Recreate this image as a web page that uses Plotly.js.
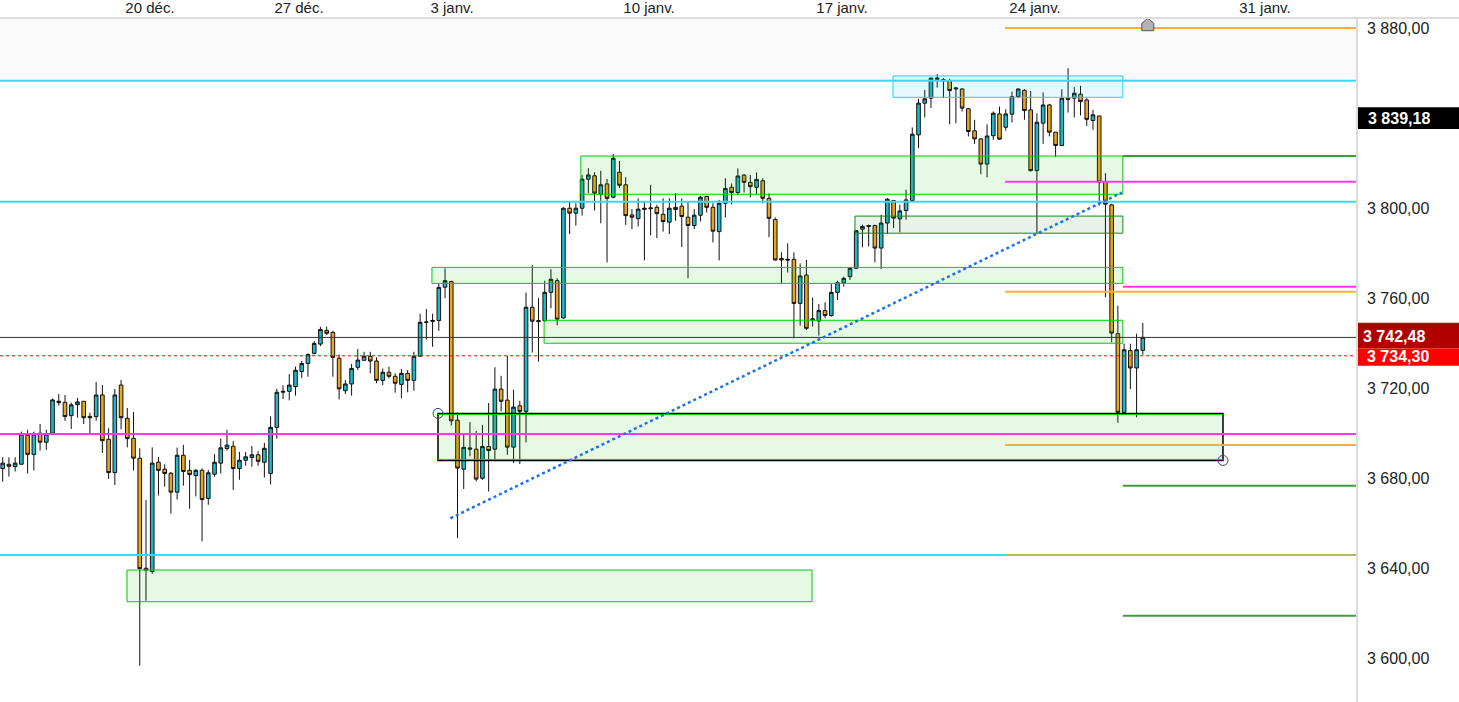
<!DOCTYPE html>
<html><head><meta charset="utf-8">
<script src="https://cdn.plot.ly/plotly-3.0.1.min.js"></script>
<style>html,body{margin:0;padding:0;background:#fff;overflow:hidden}#chart{width:1459px;height:702px}</style>
</head><body><div id="chart"></div>
<script>
// ---- candle data ----
const openP = [3684.2,3686.1,3685.1,3686.1,3699.0,3690.5,3699.9,3695.9,3699.9,3713.5,
3713.6,3707.7,3712.6,3714.1,3707.4,3707.3,3716.9,3697.2,3682.4,3721.3,
3706.5,3697.6,3688.8,3639.9,3638.4,3687.0,3683.9,3682.1,3673.7,3690.1,
3683.4,3681.1,3683.4,3670.9,3681.7,3686.6,3693.1,3694.1,3684.2,3687.9,
3689.1,3690.3,3687.0,3682.0,3702.5,3718.1,3718.5,3720.6,3727.3,3730.9,
3735.4,3739.5,3745.6,3744.7,3733.2,3718.8,3721.8,3729.2,3732.3,3734.1,
3732.0,3723.4,3727.0,3725.2,3721.6,3726.5,3723.4,3734.1,3749.2,3749.6,
3750.0,3764.8,3767.3,3705.7,3683.9,3692.8,3692.8,3679.9,3694.0,3692.8,
3719.5,3714.6,3693.7,3712.1,3709.6,3755.9,3749.5,3749.9,3762.5,3767.7,
3751.1,3799.9,3797.7,3799.9,3812.8,3814.3,3806.1,3810.7,3804.8,3815.9,
3810.3,3796.9,3795.3,3799.3,3799.7,3800.3,3797.2,3793.7,3799.3,3800.8,
3795.9,3792.2,3796.8,3805.1,3800.3,3789.5,3802.1,3809.2,3806.9,3814.6,
3811.4,3809.2,3812.1,3804.3,3794.9,3777.6,3777.2,3777.2,3757.6,3770.2,
3750.2,3749.8,3754.4,3752.2,3762.5,3766.8,3769.5,3773.2,3790.6,3791.8,
3792.2,3782.2,3793.3,3803.3,3795.2,3798.9,3803.3,3832.5,3846.6,3848.8,
3857.2,3856.5,3856.5,3852.9,3852.9,3844.1,3834.3,3830.7,3819.5,3832.1,
3841.8,3835.9,3841.7,3849.5,3852.3,3843.6,3816.6,3837.7,3845.8,3833.7,
3827.8,3848.8,3848.8,3850.6,3848.0,3838.9,3840.9,3811.8,3801.4,3744.1,
3709.2,3736.6,3728.9,3736.7];
const highP = [3689.2,3689.2,3689.2,3700.6,3701.4,3700.6,3704.0,3701.4,3715.3,3717.3,
3716.9,3713.5,3715.6,3714.1,3709.0,3722.7,3721.3,3702.1,3719.6,3723.6,
3711.1,3709.3,3693.2,3670.2,3693.6,3689.4,3686.1,3682.7,3693.5,3694.7,
3688.0,3683.9,3684.3,3683.6,3690.6,3697.5,3701.4,3696.5,3691.6,3691.6,
3694.2,3691.9,3695.6,3707.4,3719.6,3721.2,3726.2,3729.5,3732.0,3735.4,
3740.9,3747.2,3747.2,3745.4,3734.9,3723.5,3730.7,3737.3,3736.1,3736.1,
3733.6,3728.7,3729.5,3726.5,3728.4,3728.0,3736.1,3753.0,3755.1,3753.0,
3766.5,3773.2,3767.7,3709.1,3699.2,3704.8,3700.9,3703.6,3713.3,3729.2,
3725.4,3734.4,3719.2,3714.3,3762.4,3774.7,3759.9,3767.7,3772.8,3768.8,
3800.3,3802.9,3802.1,3814.7,3817.7,3815.9,3816.5,3812.9,3824.0,3820.9,
3813.7,3799.5,3804.3,3802.9,3810.3,3801.4,3804.3,3804.3,3806.6,3804.3,
3802.9,3799.5,3805.4,3805.4,3802.1,3803.6,3813.2,3810.9,3817.6,3815.1,
3814.6,3815.8,3813.2,3806.5,3795.8,3780.3,3784.3,3780.3,3775.4,3776.9,
3760.2,3757.3,3758.1,3766.2,3767.7,3769.5,3773.6,3790.2,3792.6,3792.6,
3792.6,3797.0,3804.4,3803.6,3801.4,3808.1,3835.8,3848.5,3852.5,3858.0,
3859.5,3857.7,3857.4,3853.7,3853.2,3844.4,3839.2,3831.0,3837.2,3842.9,
3845.1,3843.9,3851.7,3853.2,3852.8,3852.0,3842.1,3851.4,3846.3,3833.7,
3852.8,3862.1,3853.7,3854.3,3848.8,3843.6,3840.9,3815.5,3801.9,3756.6,
3739.7,3739.7,3744.1,3748.9];
const lowP = [3678.4,3680.6,3682.9,3686.1,3682.0,3683.3,3692.2,3692.5,3699.1,3712.2,
3705.4,3701.8,3706.8,3704.0,3699.1,3705.4,3691.1,3679.6,3676.9,3701.6,
3693.6,3683.3,3596.6,3625.4,3637.4,3672.2,3676.2,3664.2,3670.4,3676.6,
3666.3,3671.8,3651.8,3668.1,3680.6,3682.0,3692.2,3674.7,3679.2,3685.5,
3685.0,3685.4,3680.2,3677.1,3697.5,3715.1,3714.5,3716.6,3724.3,3725.0,
3734.9,3738.6,3743.5,3725.0,3714.9,3717.3,3716.6,3728.0,3732.1,3726.5,
3722.1,3721.2,3724.3,3717.9,3715.4,3718.1,3718.8,3734.1,3741.6,3738.3,
3745.4,3759.9,3703.3,3653.3,3675.1,3689.6,3678.5,3679.2,3674.0,3688.1,
3709.6,3690.3,3686.6,3686.2,3695.8,3735.8,3731.7,3749.5,3755.4,3747.9,
3750.8,3788.4,3792.2,3796.6,3806.6,3798.9,3793.2,3775.8,3804.3,3808.8,
3792.5,3790.6,3791.8,3776.7,3787.8,3786.6,3789.5,3788.4,3794.3,3782.6,
3768.8,3790.6,3794.0,3798.0,3784.7,3776.7,3795.8,3801.6,3805.8,3806.9,
3804.7,3806.2,3802.1,3787.0,3776.6,3766.1,3771.3,3742.1,3747.7,3745.8,
3747.3,3743.3,3751.0,3751.7,3759.1,3765.0,3768.0,3772.9,3782.5,3782.9,
3775.8,3772.9,3788.5,3791.1,3789.2,3794.8,3802.9,3826.6,3840.2,3844.4,
3853.5,3848.8,3837.2,3837.7,3842.9,3831.8,3828.5,3815.0,3813.6,3830.3,
3830.3,3834.4,3838.0,3848.8,3839.2,3816.2,3788.8,3828.5,3831.8,3822.6,
3827.6,3842.4,3840.2,3841.1,3836.5,3834.7,3801.1,3760.3,3740.3,3704.5,
3708.6,3719.5,3707.0,3734.8];
const closeP = [3686.6,3685.2,3686.6,3699.6,3690.5,3699.6,3695.9,3699.6,3714.7,3714.1,
3707.3,3712.5,3713.8,3706.8,3706.8,3716.9,3696.6,3682.4,3716.9,3706.8,
3697.5,3688.8,3639.7,3639.1,3686.6,3683.4,3682.0,3673.7,3690.1,3682.9,
3681.5,3683.4,3670.4,3682.3,3687.0,3693.4,3694.6,3684.2,3687.9,3689.4,
3690.3,3687.4,3693.2,3702.5,3718.1,3718.5,3721.3,3727.9,3730.9,3734.9,
3739.8,3746.0,3744.3,3733.6,3719.6,3721.8,3728.7,3732.4,3734.1,3732.0,
3723.4,3727.0,3725.2,3722.1,3726.5,3723.4,3734.1,3749.2,3749.3,3750.0,
3764.7,3767.7,3705.4,3684.4,3693.6,3693.3,3679.5,3694.0,3692.2,3719.5,
3714.1,3693.7,3711.5,3709.6,3755.9,3749.7,3749.9,3762.5,3768.3,3750.6,
3799.9,3797.7,3799.9,3812.8,3814.7,3806.6,3810.3,3804.3,3822.1,3810.1,
3796.6,3795.9,3799.5,3799.9,3800.0,3797.5,3794.0,3799.9,3800.3,3796.2,
3792.2,3796.8,3804.8,3800.3,3789.7,3802.1,3808.7,3806.9,3814.2,3811.4,
3809.5,3812.7,3804.3,3795.4,3776.9,3776.9,3776.9,3757.6,3769.8,3746.5,
3750.7,3754.4,3752.2,3762.5,3766.8,3768.7,3773.2,3789.9,3791.8,3792.2,
3782.2,3793.3,3803.9,3795.5,3798.7,3803.6,3832.8,3846.6,3848.5,3857.7,
3857.7,3857.0,3852.2,3853.3,3844.4,3834.0,3830.7,3819.5,3832.0,3842.1,
3830.6,3841.8,3849.5,3852.9,3843.3,3816.6,3838.1,3845.8,3833.7,3827.8,
3848.8,3848.3,3851.0,3847.3,3839.4,3841.4,3811.5,3801.7,3744.4,3709.2,
3737.0,3728.9,3737.0,3742.5];

// ---- axis ticks ----
const xTickPos = [23.64, 47.56, 72.12, 103.74, 134.72, 165.70, 202.6];
const xTickLabels = ['20 déc.', '27 déc.', '3 janv.', '10 janv.', '17 janv.', '24 janv.', '31 janv.'];
const yTickValues = [3600, 3640, 3680, 3720, 3760, 3800, 3840, 3880];
const yTickLabels = ['3 600,00', '3 640,00', '3 680,00', '3 720,00', '3 760,00', '3 800,00', '3 840,00', '3 880,00'];

// ---- horizontal levels ----
const levelPrice = [3880.0, 3856.6, 3823.1, 3811.7, 3802.8, 3765.0, 3762.8, 3699.6, 3694.7, 3676.6, 3645.8, 3645.8, 3618.8];
const levelFrom  = [160.9, -5, 179.8, 160.9, -5, 179.8, 160.9, -5, 160.9, 179.8, -5, 160.9, 179.8];
const levelTo    = [300, 300, 300, 300, 300, 300, 300, 300, 300, 300, 160.9, 300, 300];
const levelColor = ['#f9b233', '#3ad8f5', '#3f9c3f', '#f03cef', '#3ad8f5', '#f03cef', '#f9b233', '#f03cef', '#f0b040', '#3f9c3f', '#3ad8f5', '#b4b862', '#3f9c3f'];

// ---- zones ----
const zoneFrom   = [19.95, 68.9, 86.9, 92.8, 136.8, 142.9];
const zoneTo     = [129.9, 179.8, 179.8, 179.8, 179.8, 179.8];
const zoneTop    = [3639.1, 3773.6, 3750.1, 3823.1, 3796.4, 3858.7];
const zoneBottom = [3625.0, 3766.5, 3739.9, 3806.1, 3788.8, 3849.2];
const zoneLine   = ['#00cc00', '#00cc00', '#00cc00', '#00cc00', '#138a13', '#22d0f0'];
const zoneFill   = ['rgba(0,200,0,0.1)', 'rgba(0,200,0,0.1)', 'rgba(0,200,0,0.1)', 'rgba(0,200,0,0.1)', 'rgba(0,110,0,0.09)', 'rgba(0,190,240,0.09)'];

// big zone and trend
const bigZone = {from: 69.87, to: 195.87, top: 3708.7, bottom: 3687.8};
const trend = {x0: 71.86, y0: 3662.1, x1: 179.6, y1: 3806.8};

// price labels
const lastPrice = 3742.48, dottedPrice = 3734.30, refPrice = 3839.18;
const labelTexts = ['3 839,18', '3 742,48', '3 734,30'];
const markerIndex = 183.8;

const candleX = openP.map((_, i) => i);
const xRange = [-0.433, 217.38];
const yRange = [3580.44, 3884.44];
const plotW = 1357, rightW = 102;
function py(p) { return (p - yRange[0]) / (yRange[1] - yRange[0]); }

const trace = {
  type: 'candlestick', x: candleX, open: openP, high: highP, low: lowP, close: closeP,
  increasing: {fillcolor: '#22b6c9', line: {color: '#111', width: 1}},
  decreasing: {fillcolor: '#eca51e', line: {color: '#111', width: 1}},
  whiskerwidth: 0, hoverinfo: 'skip', showlegend: false
};

const shapes = [];
// light band at top
shapes.push({type: 'rect', xref: 'paper', yref: 'y', x0: 0, x1: 1, y0: 3856.6, y1: yRange[1], fillcolor: '#f9f9f9', line: {width: 0}, layer: 'below'});
for (let i = 0; i < zoneTop.length; i++) {
  shapes.push({type: 'rect', xref: 'x', yref: 'y', x0: zoneFrom[i], x1: zoneTo[i], y0: zoneBottom[i], y1: zoneTop[i],
    fillcolor: zoneFill[i], line: {color: zoneLine[i], width: 1}, layer: 'above'});
}
shapes.push({type: 'rect', xref: 'x', yref: 'y', x0: bigZone.from, x1: bigZone.to, y0: bigZone.bottom, y1: bigZone.top,
  fillcolor: 'rgba(0,200,0,0.1)', line: {color: '#000', width: 1.5}, layer: 'above'});
shapes.push({type: 'line', xref: 'x', yref: 'y', x0: bigZone.from, x1: bigZone.to, y0: bigZone.top - 0.45, y1: bigZone.top - 0.45, line: {color: '#00cc00', width: 1}});
shapes.push({type: 'line', xref: 'x', yref: 'y', x0: bigZone.from, x1: bigZone.to, y0: bigZone.bottom + 0.45, y1: bigZone.bottom + 0.45, line: {color: '#00cc00', width: 1}});
for (let i = 0; i < levelPrice.length; i++) {
  shapes.push({type: 'line', xref: 'x', yref: 'y', x0: levelFrom[i], x1: levelTo[i], y0: levelPrice[i], y1: levelPrice[i],
    line: {color: levelColor[i], width: 2}, layer: 'above'});
}
shapes.push({type: 'line', xref: 'paper', yref: 'y', x0: 0, x1: 1, y0: lastPrice, y1: lastPrice, line: {color: '#333', width: 1}});
shapes.push({type: 'line', xref: 'paper', yref: 'y', x0: 0, x1: 1, y0: dottedPrice, y1: dottedPrice, line: {color: '#ff0000', width: 1, dash: 'dot'}});
shapes.push({type: 'line', xref: 'x', yref: 'y', x0: trend.x0, y0: trend.y0, x1: trend.x1, y1: trend.y1, line: {color: '#1f6ff2', width: 2.5, dash: 'dot'}});
// corner handles
[[bigZone.from, bigZone.top], [bigZone.to, bigZone.bottom]].forEach(function (c) {
  shapes.push({type: 'circle', xref: 'x', yref: 'y', xsizemode: 'pixel', ysizemode: 'pixel', xanchor: c[0], yanchor: c[1],
    x0: -5, x1: 5, y0: -5, y1: 5, line: {color: '#444', width: 1}, fillcolor: 'rgba(0,0,0,0)'});
});
// marker (house shape)
const mw = 0.96;
shapes.push({type: 'path', xref: 'x', yref: 'y',
  path: 'M' + markerIndex + ',3884.3 L' + (markerIndex + mw) + ',3882.1 L' + (markerIndex + mw) + ',3878.8 L' + (markerIndex - mw) + ',3878.8 L' + (markerIndex - mw) + ',3882.1 Z',
  fillcolor: '#b3b3b3', line: {color: '#555', width: 1}});
// frame lines
shapes.push({type: 'line', xref: 'paper', yref: 'paper', x0: 0, x1: 1 + rightW / plotW, y0: 1, y1: 1, line: {color: '#dcdcdc', width: 2}});
shapes.push({type: 'line', xref: 'paper', yref: 'paper', x0: 1, x1: 1, y0: 0, y1: 1, line: {color: '#dcdcdc', width: 2}});
// label boxes
const boxX0 = 1 + 1 / plotW, boxX1 = 1 + rightW / plotW;
shapes.push({type: 'rect', xref: 'paper', yref: 'paper', x0: boxX0, x1: boxX1, y0: py(3835.1), y1: py(3844.8), fillcolor: '#000', line: {width: 0}});
shapes.push({type: 'rect', xref: 'paper', yref: 'paper', x0: boxX0, x1: boxX1, y0: py(3737.6), y1: py(3749.0), fillcolor: '#b00000', line: {width: 0}});
shapes.push({type: 'rect', xref: 'paper', yref: 'paper', x0: boxX0, x1: boxX1, y0: py(3729.9), y1: py(3737.6), fillcolor: '#ff0000', line: {width: 0}});

const lblFont = {family: 'Liberation Sans, Arial, sans-serif', size: 16, color: '#fff', weight: 'bold'};
const annotations = [
  {xref: 'paper', yref: 'paper', x: 1, y: py(refPrice + 0.8), xanchor: 'left', yanchor: 'middle', xshift: 9, text: '<b>' + labelTexts[0] + '</b>', showarrow: false, font: lblFont},
  {xref: 'paper', yref: 'paper', x: 1, y: py(lastPrice + 0.2), xanchor: 'left', yanchor: 'middle', xshift: 4, text: '<b>' + labelTexts[1] + '</b>', showarrow: false, font: lblFont},
  {xref: 'paper', yref: 'paper', x: 1, y: py(dottedPrice - 0.5), xanchor: 'left', yanchor: 'middle', xshift: 8, text: '<b>' + labelTexts[2] + '</b>', showarrow: false, font: lblFont}
];

const layout = {
  width: 1459, height: 702,
  margin: {l: 0, r: rightW, t: 18, b: 0, pad: 0},
  paper_bgcolor: '#ffffff', plot_bgcolor: '#ffffff',
  showlegend: false, hovermode: false, dragmode: false,
  boxgap: 0.42, boxgroupgap: 0,
  xaxis: {range: xRange, side: 'top', tickmode: 'array', tickvals: xTickPos, ticktext: xTickLabels,
    showgrid: false, zeroline: false, showline: false, ticks: '', rangeslider: {visible: false}, fixedrange: true,
    ticklabelstandoff: 1,
    tickfont: {family: 'Liberation Sans, Arial, sans-serif', size: 15, color: '#222'}},
  yaxis: {range: yRange, side: 'right', tickmode: 'array', tickvals: yTickValues, ticktext: yTickLabels,
    showgrid: false, zeroline: false, showline: false, ticks: '', fixedrange: true, ticklabelstandoff: 9,
    tickfont: {family: 'Liberation Sans, Arial, sans-serif', size: 16, color: '#222'}},
  shapes: shapes, annotations: annotations
};
Plotly.newPlot('chart', [trace], layout, {displayModeBar: false, staticPlot: true});
</script></body></html>
